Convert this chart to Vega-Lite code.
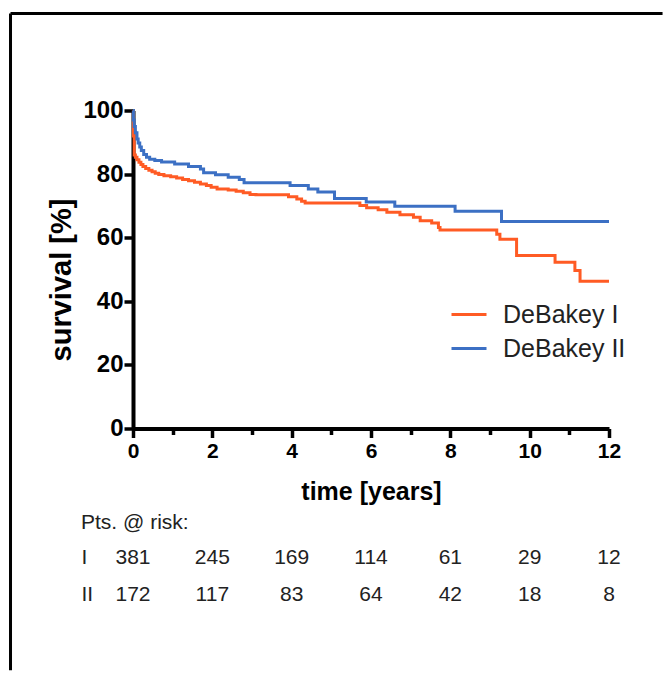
{
  "$schema": "https://vega.github.io/schema/vega-lite/v6.json",
  "padding": {"left": 9, "top": 11.5, "right": 0, "bottom": 0},
  "background": "white",
  "bounds": "flush",
  "spacing": 110.5,
  "config": {
    "view": {"stroke": null},
    "font": "Liberation Sans",
    "axis": {"domainColor": "black", "tickColor": "black", "labelColor": "black", "titleColor": "black", "grid": false, "labelFont": "Liberation Sans", "titleFont": "Liberation Sans"}
  },
  "datasets": {
    "survival": [
      {"group": "DeBakey I", "time": 0, "survival": 100},
      {"group": "DeBakey I", "time": 0.01, "survival": 92},
      {"group": "DeBakey I", "time": 0.03, "survival": 86},
      {"group": "DeBakey I", "time": 0.06, "survival": 85.3},
      {"group": "DeBakey I", "time": 0.1, "survival": 84.5},
      {"group": "DeBakey I", "time": 0.15, "survival": 83.7},
      {"group": "DeBakey I", "time": 0.2, "survival": 83.0},
      {"group": "DeBakey I", "time": 0.25, "survival": 82.4},
      {"group": "DeBakey I", "time": 0.32, "survival": 81.8},
      {"group": "DeBakey I", "time": 0.4, "survival": 81.2},
      {"group": "DeBakey I", "time": 0.48, "survival": 80.7},
      {"group": "DeBakey I", "time": 0.56, "survival": 80.3},
      {"group": "DeBakey I", "time": 0.65, "survival": 79.9},
      {"group": "DeBakey I", "time": 0.78, "survival": 79.5},
      {"group": "DeBakey I", "time": 0.95, "survival": 79.2},
      {"group": "DeBakey I", "time": 1.1, "survival": 78.8},
      {"group": "DeBakey I", "time": 1.25, "survival": 78.3},
      {"group": "DeBakey I", "time": 1.4, "survival": 77.9},
      {"group": "DeBakey I", "time": 1.55, "survival": 77.4},
      {"group": "DeBakey I", "time": 1.7, "survival": 76.9},
      {"group": "DeBakey I", "time": 1.85, "survival": 76.4},
      {"group": "DeBakey I", "time": 1.97, "survival": 75.9},
      {"group": "DeBakey I", "time": 2.12, "survival": 75.3},
      {"group": "DeBakey I", "time": 2.4, "survival": 75.0},
      {"group": "DeBakey I", "time": 2.6, "survival": 74.6},
      {"group": "DeBakey I", "time": 2.78, "survival": 74.1},
      {"group": "DeBakey I", "time": 2.95, "survival": 73.6},
      {"group": "DeBakey I", "time": 3.1, "survival": 73.5},
      {"group": "DeBakey I", "time": 3.92, "survival": 72.9},
      {"group": "DeBakey I", "time": 4.13, "survival": 72.2},
      {"group": "DeBakey I", "time": 4.25, "survival": 71.5},
      {"group": "DeBakey I", "time": 4.34, "survival": 70.9},
      {"group": "DeBakey I", "time": 5.72, "survival": 70.1},
      {"group": "DeBakey I", "time": 5.89, "survival": 69.4},
      {"group": "DeBakey I", "time": 6.18, "survival": 68.8},
      {"group": "DeBakey I", "time": 6.4, "survival": 68.0},
      {"group": "DeBakey I", "time": 6.73, "survival": 67.2},
      {"group": "DeBakey I", "time": 7.07, "survival": 66.4},
      {"group": "DeBakey I", "time": 7.24, "survival": 65.3},
      {"group": "DeBakey I", "time": 7.53, "survival": 64.6},
      {"group": "DeBakey I", "time": 7.7, "survival": 63.2},
      {"group": "DeBakey I", "time": 7.74, "survival": 62.4},
      {"group": "DeBakey I", "time": 9.17, "survival": 61.1},
      {"group": "DeBakey I", "time": 9.25, "survival": 59.5},
      {"group": "DeBakey I", "time": 9.67, "survival": 54.4},
      {"group": "DeBakey I", "time": 10.64, "survival": 52.3},
      {"group": "DeBakey I", "time": 11.14, "survival": 49.7},
      {"group": "DeBakey I", "time": 11.27, "survival": 46.3},
      {"group": "DeBakey I", "time": 12, "survival": 46.3},
      {"group": "DeBakey II", "time": 0, "survival": 100},
      {"group": "DeBakey II", "time": 0.01, "survival": 97},
      {"group": "DeBakey II", "time": 0.03, "survival": 95},
      {"group": "DeBakey II", "time": 0.06, "survival": 93},
      {"group": "DeBakey II", "time": 0.1, "survival": 91},
      {"group": "DeBakey II", "time": 0.13, "survival": 89.8},
      {"group": "DeBakey II", "time": 0.17, "survival": 88.5},
      {"group": "DeBakey II", "time": 0.21, "survival": 87.4},
      {"group": "DeBakey II", "time": 0.27, "survival": 86.2},
      {"group": "DeBakey II", "time": 0.34, "survival": 85.3},
      {"group": "DeBakey II", "time": 0.42, "survival": 84.7},
      {"group": "DeBakey II", "time": 0.55, "survival": 84.3},
      {"group": "DeBakey II", "time": 0.72, "survival": 83.8},
      {"group": "DeBakey II", "time": 1.05, "survival": 83.2},
      {"group": "DeBakey II", "time": 1.4, "survival": 82.4},
      {"group": "DeBakey II", "time": 1.7, "survival": 81.6},
      {"group": "DeBakey II", "time": 1.78, "survival": 80.4},
      {"group": "DeBakey II", "time": 2.08, "survival": 79.8},
      {"group": "DeBakey II", "time": 2.4, "survival": 79.0},
      {"group": "DeBakey II", "time": 2.68, "survival": 78.3},
      {"group": "DeBakey II", "time": 2.8, "survival": 77.3},
      {"group": "DeBakey II", "time": 3.96, "survival": 76.4},
      {"group": "DeBakey II", "time": 4.42, "survival": 75.3},
      {"group": "DeBakey II", "time": 4.66, "survival": 74.4},
      {"group": "DeBakey II", "time": 5.08, "survival": 72.3},
      {"group": "DeBakey II", "time": 5.88, "survival": 71.2},
      {"group": "DeBakey II", "time": 6.6, "survival": 69.9},
      {"group": "DeBakey II", "time": 8.12, "survival": 68.3},
      {"group": "DeBakey II", "time": 9.29, "survival": 65.1},
      {"group": "DeBakey II", "time": 12, "survival": 65.1}
    ],
    "risk": [
      {"group": "I", "time": 0, "n": 381},
      {"group": "I", "time": 2, "n": 245},
      {"group": "I", "time": 4, "n": 169},
      {"group": "I", "time": 6, "n": 114},
      {"group": "I", "time": 8, "n": 61},
      {"group": "I", "time": 10, "n": 29},
      {"group": "I", "time": 12, "n": 12},
      {"group": "II", "time": 0, "n": 172},
      {"group": "II", "time": 2, "n": 117},
      {"group": "II", "time": 4, "n": 83},
      {"group": "II", "time": 6, "n": 64},
      {"group": "II", "time": 8, "n": 42},
      {"group": "II", "time": 10, "n": 18},
      {"group": "II", "time": 12, "n": 8}
    ]
  },
  "vconcat": [
    {
      "width": 476,
      "height": 318,
      "layer": [
        {
          "data": {"name": "survival"},
          "mark": {"type": "line", "interpolate": "step-after", "strokeWidth": 3},
          "encoding": {
            "x": {
              "field": "time", "type": "quantitative",
              "scale": {"domain": [0, 12], "nice": false},
              "axis": {"values": [0, 2, 4, 6, 8, 10, 12], "title": "time [years]", "titleFontSize": 25, "titleFontWeight": "bold", "labelFontSize": 21, "labelFontWeight": "bold", "tickSize": 9, "tickWidth": 3.5, "domainWidth": 4, "labelPadding": 3, "titlePadding": 18, "labelFlush": false, "orient": "bottom"}
            },
            "y": {
              "field": "survival", "type": "quantitative",
              "scale": {"domain": [0, 100], "nice": false},
              "title": "survival [%]",
              "axis": {"values": [0, 20, 40, 60, 80, 100], "titleFontSize": 29, "titleFontWeight": "bold", "titleY": 169, "labelFontSize": 24, "labelFontWeight": "bold", "tickSize": 9, "tickWidth": 3.5, "domainWidth": 4, "labelPadding": 1, "titlePadding": 6, "labelFlush": false}
            },
            "color": {
              "field": "group", "type": "nominal",
              "scale": {"domain": ["DeBakey I", "DeBakey II"], "range": ["#FF5B24", "#3C70C4"]},
              "legend": {"orient": "none", "legendX": 317, "legendY": 185, "title": null, "symbolType": "stroke", "symbolSize": 1225, "symbolStrokeWidth": 3, "labelFontSize": 25, "labelFont": "Liberation Sans", "labelColor": "#222222", "labelOffset": 15, "rowPadding": 2, "padding": 0}
            }
          }
        },
        {
          "data": {"values": [{}]},
          "mark": {"type": "rule", "color": "black", "strokeWidth": 3},
          "encoding": {
            "x": {"datum": -3.088, "type": "quantitative", "axis": {"orient": "bottom", "values": [1, 3, 5, 7, 9, 11], "labels": false, "domain": false, "tickSize": 6, "tickWidth": 3.5, "title": null, "grid": false}},
            "x2": {"datum": 13.35},
            "y": {"datum": 130.5, "type": "quantitative", "title": "survival [%]"}
          }
        },
        {
          "data": {"values": [{}]},
          "mark": {"type": "rule", "color": "black", "strokeWidth": 3},
          "encoding": {
            "x": {"datum": -3.088, "type": "quantitative", "axis": null},
            "y": {"datum": 130.5, "type": "quantitative", "title": "survival [%]"},
            "y2": {"datum": -76}
          }
        }
      ],
      "resolve": {"axis": {"x": "independent"}}
    },
    {
      "width": 476,
      "height": 74,
      "data": {"name": "risk"},
      "title": {"text": "Pts. @ risk:", "anchor": "start", "frame": "group", "orient": "top", "fontSize": 21, "fontWeight": "normal", "font": "Liberation Sans", "color": "#222222", "baseline": "bottom", "offset": 4, "dx": -52, "dy": 19},
      "mark": {"type": "text", "fontSize": 21, "font": "Liberation Sans", "color": "#222222"},
      "encoding": {
        "x": {"field": "time", "type": "quantitative", "scale": {"domain": [0, 12], "nice": false}, "axis": null},
        "y": {"field": "group", "type": "nominal", "scale": {"domain": ["I", "II"]}, "axis": {"title": null, "domain": false, "ticks": false, "tickSize": 0, "labelAlign": "left", "labelPadding": 52, "labelFontSize": 21, "labelFont": "Liberation Sans", "labelColor": "#222222", "labelFontWeight": "normal"}},
        "text": {"field": "n", "type": "quantitative"}
      }
    }
  ]
}
